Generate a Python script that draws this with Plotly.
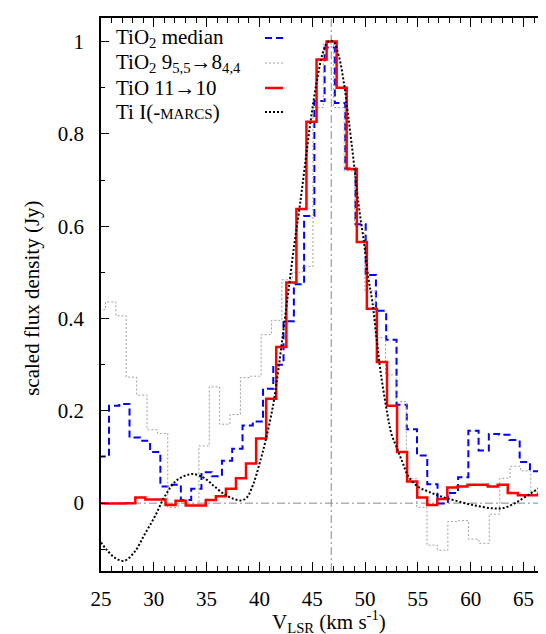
import plotly.graph_objects as go

# channel edges (km/s) and scaled flux for each spectrum
tio2_med_edges = [24.79, 25.76, 26.73, 27.70, 28.68, 29.65, 30.62, 31.59, 32.56, 33.54,
                  34.51, 35.48, 36.45, 37.42, 38.40, 39.37, 40.34, 41.31, 42.28, 43.26,
                  44.23, 45.20, 46.17, 47.14, 48.12, 49.09, 50.06, 51.03, 52.00, 52.98,
                  53.95, 54.92, 55.89, 56.86, 57.84, 58.81, 59.78, 60.75, 61.72, 62.70,
                  63.67, 64.64, 65.61, 66.58, 67.56, 68.53]
tio2_med_flux = [0.101, 0.211, 0.215, 0.142, 0.135, 0.111, 0.036, 0.040, 0.007, 0.031,
                 0.067, 0.058, 0.092, 0.118, 0.168, 0.177, 0.248, 0.300, 0.394, 0.474,
                 0.622, 0.871, 0.987, 0.867, 0.725, 0.604, 0.494, 0.417, 0.354, 0.213,
                 0.160, 0.103, 0.041, -0.001, 0.022, 0.056, 0.157, 0.114, 0.150, 0.148,
                 0.137, 0.089, 0.069, 0.094, 0.041]

tio2_line_edges = [24.45, 25.43, 26.41, 27.39, 28.38, 29.36, 30.34, 31.32, 32.30, 33.29,
                   34.27, 35.25, 36.23, 37.21, 38.20, 39.18, 40.16, 41.14, 42.12, 43.11,
                   44.09, 45.07, 46.05, 47.03, 48.02, 49.00, 49.98, 50.96, 51.94, 52.93,
                   53.91, 54.89, 55.87, 56.85, 57.84, 58.82, 59.80, 60.78, 61.76, 62.75,
                   63.73, 64.71, 65.69, 66.67, 67.66, 68.64]
tio2_line_flux = [0.419, 0.436, 0.406, 0.273, 0.234, 0.159, 0.151, -0.009, 0.0, -0.002,
                  0.124, 0.252, 0.171, 0.192, 0.272, 0.275, 0.365, 0.396, 0.484, 0.500,
                  0.513, 0.857, 0.995, 0.857, 0.720, 0.600, 0.460, 0.359, 0.278, 0.220,
                  0.053, -0.009, -0.091, -0.102, -0.040, -0.038, -0.078, -0.087, -0.024, 0.054,
                  0.080, 0.070, 0.025, 0.082, 0.115]

tio_edges = [24.44, 25.39, 26.35, 27.30, 28.25, 29.20, 30.16, 31.11, 32.06, 33.02,
             33.97, 34.92, 35.88, 36.83, 37.78, 38.73, 39.69, 40.64, 41.59, 42.55,
             43.50, 44.45, 45.41, 46.36, 47.31, 48.26, 49.22, 50.17, 51.12, 52.08,
             53.03, 53.98, 54.94, 55.89, 56.84, 57.79, 58.75, 59.70, 60.65, 61.61,
             62.56, 63.51, 64.47, 65.42, 66.37, 67.32, 68.28]
tio_flux = [0.0, -0.001, -0.001, 0.0, 0.012, 0.008, 0.008, -0.004, 0.005, -0.005,
            -0.005, 0.007, 0.015, 0.031, 0.054, 0.086, 0.140, 0.226, 0.338, 0.478,
            0.637, 0.826, 0.961, 1.0, 0.900, 0.724, 0.566, 0.421, 0.306, 0.211,
            0.111, 0.047, 0.012, -0.004, 0.009, 0.034, 0.036, 0.040, 0.040, 0.036,
            0.040, 0.022, 0.017, 0.017, 0.020, 0.0]

# Ti I model (smooth curve)
ti_v = [25.0, 25.5, 26.3, 27.2, 28.2, 29.1, 30.1, 31.0, 32.0, 32.9,
        33.8, 34.8, 35.7, 36.7, 37.6, 38.3, 38.8, 39.4, 40.0, 40.6,
        41.3, 41.8, 42.3, 42.8, 43.3, 43.8, 44.3, 44.8, 45.4, 46.0,
        46.5, 47.0, 47.5, 48.0, 48.4, 48.9, 49.4, 49.9, 50.3, 50.7,
        51.1, 51.5, 52.1, 52.5, 53.1, 53.6, 54.1, 55.0, 56.0, 57.2,
        58.8, 60.4, 62.0, 63.0, 64.2, 65.4, 66.7, 67.9]
ti_flux = [-0.085, -0.100, -0.118, -0.125, -0.105, -0.069, -0.029, 0.013, 0.046, 0.059,
           0.063, 0.054, 0.037, 0.019, 0.009, 0.006, 0.012, 0.040, 0.085, 0.137,
           0.213, 0.290, 0.380, 0.470, 0.560, 0.640, 0.730, 0.820, 0.910, 0.975,
           1.0, 1.0, 0.970, 0.910, 0.840, 0.745, 0.645, 0.565, 0.490, 0.435,
           0.355, 0.280, 0.195, 0.150, 0.115, 0.085, 0.058, 0.036, 0.025, 0.0145,
           0.004, -0.005, -0.011, -0.011, 0.0, 0.017, 0.036, 0.052]

VSYS = 46.8

FONT = "Liberation Serif"


def steps(edges, vals):
    return edges, vals + [vals[-1]]


fig = go.Figure()

x, y = steps(tio2_med_edges, tio2_med_flux)
fig.add_trace(go.Scatter(x=x, y=y, mode="lines", line_shape="hv",
                         line=dict(color="#0000ff", width=2, dash="7px,4px")))
x, y = steps(tio2_line_edges, tio2_line_flux)
fig.add_trace(go.Scatter(x=x, y=y, mode="lines", line_shape="hv",
                         line=dict(color="#a0a0a0", width=1, dash="2px,2px")))
x, y = steps(tio_edges, tio_flux)
fig.add_trace(go.Scatter(x=x, y=y, mode="lines", line_shape="hv",
                         line=dict(color="#ff0000", width=2.5)))
fig.add_trace(go.Scatter(x=ti_v, y=ti_flux, mode="lines", line_shape="spline",
                         line=dict(color="black", width=2, dash="2px,2px")))

fig.add_hline(y=0, line=dict(color="#888888", width=1, dash="8px,3px,2px,3px"), layer="below")
fig.add_vline(x=VSYS, line=dict(color="#888888", width=1, dash="8px,3px,2px,3px"), layer="below")

# legend drawn gnuplot style: text, then sample line
labels = [
    "TiO<sub>2</sub> median",
    "TiO<sub>2</sub> 9<sub>5,5</sub>→8<sub>4,4</sub>",
    "TiO 11→10",
    "Ti I(-<span style='font-size:15px'>MARCS</span>)",
]
samples = [
    dict(color="#0000ff", width=2, dash="7px,4px"),
    dict(color="#a0a0a0", width=1, dash="2px,2px"),
    dict(color="#ff0000", width=2.5),
    dict(color="black", width=2, dash="2px,2px"),
]
rows = [0.9638, 0.9186, 0.8734, 0.8300]
for lab, ln, ry in zip(labels, samples, rows):
    fig.add_annotation(x=0.029, y=ry, xref="paper", yref="paper", text=lab,
                       showarrow=False, xanchor="left", yanchor="middle",
                       font=dict(family=FONT, size=21, color="black"))
    fig.add_shape(type="line", xref="paper", yref="paper",
                  x0=0.3636, x1=0.4035, y0=ry, y1=ry, line=ln)

# axis titles
fig.add_annotation(x=-0.153, y=0.494, xref="paper", yref="paper",
                   text="scaled flux density (Jy)", textangle=-90, showarrow=False,
                   xanchor="center", yanchor="middle",
                   font=dict(family=FONT, size=21, color="black"))
fig.add_annotation(x=0.505, y=-0.062, xref="paper", yref="paper",
                   text="V<sub>LSR</sub> (km s<sup>-1</sup>)", showarrow=False,
                   xanchor="center", yanchor="top",
                   font=dict(family=FONT, size=21, color="black"))

axis_common = dict(
    showline=True, linecolor="black", linewidth=1.5, mirror="allticks",
    ticks="inside", tickcolor="black", tickwidth=1,
    showgrid=False, zeroline=False, automargin=False,
    tickfont=dict(family=FONT, size=21, color="black"),
)

fig.update_layout(
    width=546, height=634,
    margin=dict(l=93, r=2, t=10, b=71),
    paper_bgcolor="white", plot_bgcolor="white",
    showlegend=False,
    font=dict(family=FONT, size=21, color="black"),
    xaxis=dict(range=[25, 67.7], tick0=25, dtick=5, ticklen=9,
               minor=dict(dtick=1, tick0=25, ticklen=5, ticks="inside", tickcolor="black"),
               ticklabelstandoff=8,
               **axis_common),
    yaxis=dict(range=[-0.147, 1.051], tick0=0, dtick=0.2, ticklen=8,
               minor=dict(dtick=0.1, tick0=0, ticklen=4, ticks="inside", tickcolor="black"),
               ticklabelstandoff=11,
               **axis_common),
)

fig.write_html("out.html")
